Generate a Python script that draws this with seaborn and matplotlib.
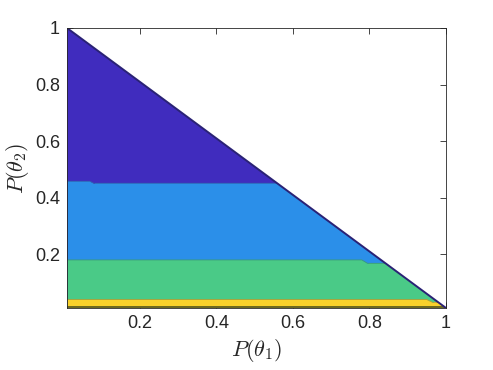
import numpy as np
import pandas as pd
import matplotlib
matplotlib.use("Agg")
import matplotlib.pyplot as plt
import seaborn as sns
from matplotlib.patches import Polygon

# ---- data ----
tri_x = [0.01, 0.01, 1.0]
tri_y = [0.01, 1.0, 0.01]

b1_x = [0.01, 0.07, 0.08, 1.0]
b1_y = [0.458, 0.458, 0.451, 0.451]
b2_x = [0.01, 0.78, 0.795, 1.0]
b2_y = [0.18, 0.18, 0.168, 0.168]
b3_x = [0.01, 0.95, 0.965, 1.0]
b3_y = [0.04, 0.04, 0.03, 0.03]
b4_x = [0.01, 1.0]
b4_y = [0.016, 0.016]

band_colors = ["#402CBE", "#2B8FE9", "#4ACA87", "#F9D12B", "#6E6A1E"]
xticks = [0.2, 0.4, 0.6, 0.8, 1.0]
yticks = [0.2, 0.4, 0.6, 0.8, 1.0]

sns.set_style("white")
plt.rcParams["font.family"] = ["Liberation Sans", "DejaVu Sans"]
plt.rcParams["mathtext.fontset"] = "cm"

fig = plt.figure(figsize=(4.93, 3.70), dpi=100)
ax = fig.add_axes([67/493, 1 - 308/370, (446-67)/493, (308-28)/370])

clip = Polygon(list(zip(tri_x, tri_y)), closed=True, transform=ax.transData,
               facecolor="none", edgecolor="none")
ax.add_patch(clip)

# top band fills the whole triangle
top = ax.fill(tri_x, tri_y, color=band_colors[0], lw=0)
for p in top:
    p.set_clip_path(clip)

bounds = [(b1_x, b1_y), (b2_x, b2_y), (b3_x, b3_y), (b4_x, b4_y)]
for (bx, by), col in zip(bounds, band_colors[1:]):
    f = ax.fill_between(bx, 0.0, by, color=col, lw=0)
    f.set_clip_path(clip)

edge_cols = ["#3060B0", "#3A9A7A", "#B8A030"]
for (bx, by), ec in zip(bounds[:3], edge_cols):
    df = pd.DataFrame({"x": bx, "y": by})
    sns.lineplot(data=df, x="x", y="y", ax=ax, color=ec, lw=0.6,
                 estimator=None, sort=False)
for ln in ax.lines:
    ln.set_clip_path(clip)

diag = pd.DataFrame({"x": tri_x[1:], "y": tri_y[1:]})
sns.lineplot(data=diag, x="x", y="y", ax=ax, color="#2A2275", lw=1.4,
             estimator=None, sort=False)

ax.set_xlim(0.01, 1.0)
ax.set_ylim(0.01, 1.0)
ax.set_xticks(xticks)
ax.set_yticks(yticks)
ax.set_xticklabels([f"{t:g}" for t in xticks])
ax.set_yticklabels([f"{t:g}" for t in yticks])
ax.tick_params(direction="in", length=4, width=0.6, color="#262626",
               labelsize=13, labelcolor="#262626", top=True, right=True,
               bottom=True, left=True, pad=5)
for s in ax.spines.values():
    s.set_visible(True)
    s.set_color("#262626")
    s.set_linewidth(0.6)

ax.set_xlabel(r"$P(\theta_1)$", fontsize=16, labelpad=4)
ax.set_ylabel(r"$P(\theta_2)$", fontsize=16, labelpad=3)

fig.savefig("out.png", dpi=100)
